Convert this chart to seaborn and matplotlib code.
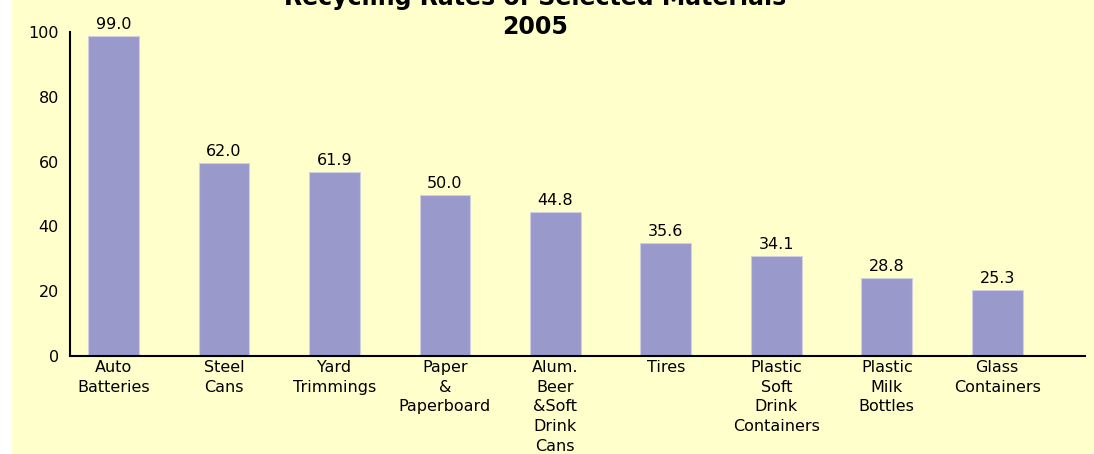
import matplotlib
matplotlib.use('Agg')
import matplotlib.pyplot as plt
import seaborn as sns
import pandas as pd
from matplotlib.patches import Rectangle

# --- data ---
materials = ['Auto\nBatteries', 'Steel\nCans', 'Yard\nTrimmings', 'Paper\n&\nPaperboard',
             'Alum.\nBeer\n&Soft\nDrink\nCans', 'Tires', 'Plastic\nSoft\nDrink\nContainers',
             'Plastic\nMilk\nBottles', 'Glass\nContainers']
# bar heights as they are drawn in the chart
bar_heights = [99.0, 59.5, 56.9, 49.7, 44.5, 34.8, 30.9, 24.1, 20.3]
# values printed above the bars
rate_labels = ['99.0', '62.0', '61.9', '50.0', '44.8', '35.6', '34.1', '28.8', '25.3']
y_ticks = [0, 20, 40, 60, 80, 100]
title = 'Recycling Rates of Selected Materials\n2005'

df = pd.DataFrame({'Material': materials, 'Rate': bar_heights})

bg = '#ffffcc'
bar_color = '#9999cc'

sns.set_style('white')
plt.rcParams['font.family'] = ['DejaVu Sans']

fig = plt.figure(figsize=(10.94, 4.54), dpi=100, facecolor=bg)
# white strip on the left edge
fig.patches.append(Rectangle((0, 0), 12 / 1094, 1, transform=fig.transFigure,
                             facecolor='white', edgecolor='none', zorder=-1))

ax = fig.add_axes([0.064, 0.2165, 0.928, 0.712])
ax.set_facecolor(bg)
sns.barplot(data=df, x='Material', y='Rate', color=bar_color, saturation=1,
            width=0.46, edgecolor='#cfcfe0', linewidth=0.8, ax=ax)
ax.bar_label(ax.containers[0], labels=rate_labels, padding=3, fontsize=11.5,
             color='black')

ax.set_ylim(0, 100)
ax.set_xlim(-0.394, 8.797)
ax.set_yticks(y_ticks)
ax.set_xlabel('')
ax.set_ylabel('')
ax.tick_params(axis='both', length=0, labelsize=11.5, colors='black')
ax.tick_params(axis='x', pad=3)
ax.tick_params(axis='y', pad=8)
for lbl in ax.get_xticklabels():
    lbl.set_linespacing(1.4)

for side in ['top', 'right']:
    ax.spines[side].set_visible(False)
for side in ['left', 'bottom']:
    ax.spines[side].set_color('black')
    ax.spines[side].set_linewidth(1.5)

# title sits partly above the top edge, as in the original
fig.text(535 / 1094, 420 / 454, title, ha='center', va='baseline',
         fontsize=17, fontweight='bold', linespacing=1.25, color='black')

fig.savefig('out.png', dpi=100, facecolor=bg)
